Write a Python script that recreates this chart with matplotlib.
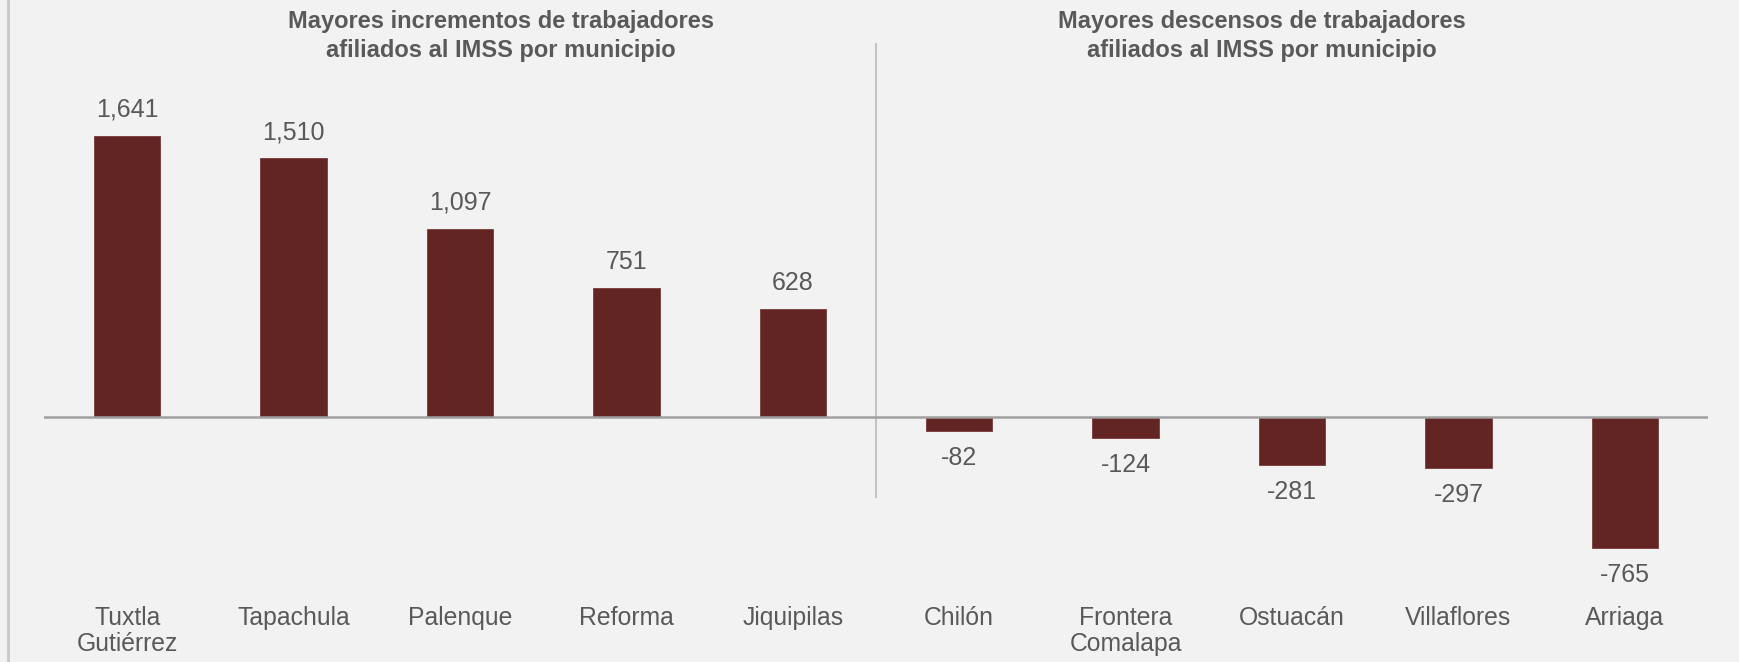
import matplotlib
matplotlib.use("Agg")
import matplotlib.pyplot as plt
from matplotlib.lines import Line2D
import matplotlib.transforms as mtransforms

categories = ["Tuxtla\nGutiérrez", "Tapachula", "Palenque", "Reforma", "Jiquipilas",
              "Chilón", "Frontera\nComalapa", "Ostuacán", "Villaflores", "Arriaga"]
values = [1641, 1510, 1097, 751, 628, -82, -124, -281, -297, -765]
titles = ["Mayores incrementos de trabajadores\nafiliados al IMSS por municipio",
          "Mayores descensos de trabajadores\nafiliados al IMSS por municipio"]

plt.rcParams['font.family'] = ['Liberation Sans', 'DejaVu Sans']
BG = "#f2f2f2"
BAR = "#632523"
TXT = "#595959"

W, H = 1740, 662
fig = plt.figure(figsize=(W / 100, H / 100), dpi=100, facecolor=BG)
ax = fig.add_axes([44 / W, 0, 1664 / W, 1])
ax.set_facecolor(BG)
ax.set_xlim(-0.5, len(values) - 0.5)
zero_px = 416.7
scale = 0.1712  # px per unit
ax.set_ylim(-(H - zero_px) / scale, zero_px / scale)
ax.axis("off")

x = list(range(len(values)))
bars = ax.bar(x, values, width=0.4, color=BAR, edgecolor="#7a3a38", linewidth=0.6, zorder=3)

ax.axhline(0, color="#a0a0a0", lw=1.8, zorder=4)
ax.axvline(4.5, ymin=(H - 497) / H, ymax=(H - 44) / H, color="#c4c4c4", lw=1.5, zorder=2)

for xi, v in zip(x, values):
    off = 26 if v >= 0 else -27
    ax.annotate(f"{v:,}", (xi, v), xytext=(0, off), textcoords="offset pixels",
                ha="center", va="center", fontsize=18, color=TXT)

trans = mtransforms.blended_transform_factory(ax.transData, ax.transAxes)
for xi, c in zip(x, categories):
    ax.text(xi, 1 - 606 / H, c, transform=trans, ha="center", va="top",
            fontsize=17.8, color=TXT, linespacing=1.08, multialignment="center")

fig.text(501 / W, 1 - 36 / H, titles[0], ha="center", va="center", fontsize=17,
         fontweight="bold", color=TXT, linespacing=1.36)
fig.text(1262 / W, 1 - 36 / H, titles[1], ha="center", va="center", fontsize=17,
         fontweight="bold", color=TXT, linespacing=1.36)

fig.add_artist(Line2D([8 / W, 8 / W], [0, 1], transform=fig.transFigure,
                      color="#c8c8c8", lw=2))

fig.savefig("out.png", dpi=100, facecolor=BG)
